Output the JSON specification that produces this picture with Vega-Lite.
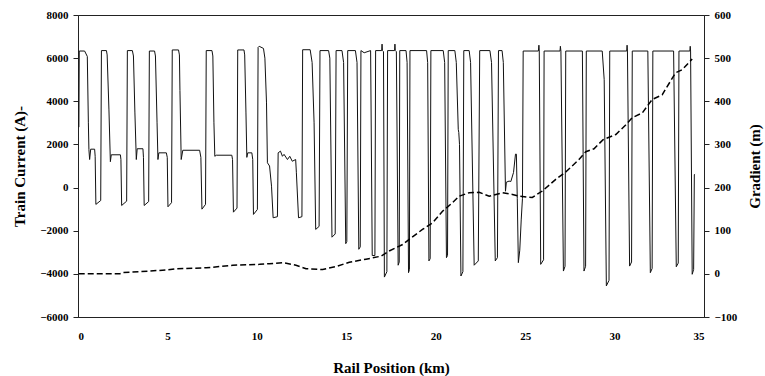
{
  "$schema": "https://vega.github.io/schema/vega-lite/v6.json",
  "width": 626,
  "height": 302,
  "autosize": "none",
  "padding": {"left": 78, "top": 15, "right": 61, "bottom": 59},
  "background": "white",
  "config": {
    "view": {"stroke": "#222", "strokeWidth": 1},
    "font": "Liberation Serif",
    "axis": {
      "labelFont": "Liberation Serif", "labelFontWeight": "bold", "labelFontSize": 11, "labelColor": "#000",
      "titleFont": "Liberation Serif", "titleFontWeight": "bold", "titleFontSize": 15, "titleColor": "#000",
      "grid": false, "domainColor": "#222", "tickColor": "#222", "domainWidth": 1
    }
  },
  "resolve": {"scale": {"y": "independent"}},
  "layer": [
    {
      "data": {"values": [
        {"km":0.05,"current":2800},{"km":0.07,"current":6330},{"km":0.37,"current":6330},{"km":0.52,"current":6080},{"km":0.58,"current":3000},{"km":0.61,"current":1760},{"km":0.65,"current":1300},{"km":0.71,"current":1780},{"km":0.93,"current":1780},{"km":0.96,"current":1450},{"km":1.00,"current":-780},{"km":1.27,"current":-600},
        {"km":1.31,"current":6350},{"km":1.59,"current":6350},{"km":1.63,"current":6150},{"km":1.73,"current":3600},{"km":1.81,"current":1200},{"km":1.86,"current":1520},{"km":2.37,"current":1520},{"km":2.40,"current":1300},{"km":2.44,"current":-830},{"km":2.72,"current":-630},
        {"km":2.76,"current":6350},{"km":3.04,"current":6350},{"km":3.10,"current":6100},{"km":3.18,"current":3500},{"km":3.26,"current":1300},{"km":3.31,"current":1800},{"km":3.63,"current":1800},{"km":3.66,"current":1400},{"km":3.70,"current":-830},{"km":3.95,"current":-650},
        {"km":3.99,"current":6330},{"km":4.28,"current":6330},{"km":4.33,"current":6100},{"km":4.42,"current":3000},{"km":4.47,"current":1300},{"km":4.52,"current":1610},{"km":4.94,"current":1610},{"km":4.99,"current":1400},{"km":5.03,"current":-890},{"km":5.23,"current":-700},
        {"km":5.27,"current":6380},{"km":5.62,"current":6380},{"km":5.67,"current":6150},{"km":5.70,"current":4500},{"km":5.77,"current":1300},{"km":5.86,"current":1730},{"km":6.80,"current":1730},{"km":6.87,"current":1400},{"km":6.93,"current":-1000},{"km":7.13,"current":-780},
        {"km":7.17,"current":6350},{"km":7.49,"current":6350},{"km":7.54,"current":6100},{"km":7.60,"current":3000},{"km":7.65,"current":1450},{"km":7.73,"current":1500},{"km":8.60,"current":1500},{"km":8.64,"current":1300},{"km":8.69,"current":-1140},{"km":8.89,"current":-950},
        {"km":8.93,"current":6380},{"km":9.28,"current":6380},{"km":9.32,"current":6150},{"km":9.39,"current":3500},{"km":9.44,"current":1400},{"km":9.49,"current":1610},{"km":9.72,"current":1610},{"km":9.77,"current":1300},{"km":9.81,"current":-1245},{"km":10.03,"current":-1015},
        {"km":10.07,"current":6500},{"km":10.13,"current":6550},{"km":10.37,"current":6450},{"km":10.45,"current":6000},{"km":10.54,"current":3925},{"km":10.59,"current":1150},{"km":10.71,"current":1000},{"km":10.82,"current":65},{"km":10.91,"current":-1400},{"km":11.15,"current":-1350},{"km":11.19,"current":1610},{"km":11.32,"current":1690},{"km":11.43,"current":1450},{"km":11.52,"current":1540},{"km":11.71,"current":1300},{"km":11.84,"current":1450},{"km":11.98,"current":1220},{"km":12.17,"current":1300},{"km":12.21,"current":685},{"km":12.33,"current":-1400},{"km":12.52,"current":-1350},
        {"km":12.56,"current":6390},{"km":12.98,"current":6390},{"km":13.09,"current":5800},{"km":13.20,"current":3000},{"km":13.29,"current":-1940},{"km":13.48,"current":-1800},
        {"km":13.53,"current":6350},{"km":14.01,"current":6350},{"km":14.08,"current":6000},{"km":14.20,"current":-2300},{"km":14.38,"current":-2150},
        {"km":14.43,"current":6350},{"km":14.76,"current":6350},{"km":14.85,"current":5800},{"km":14.97,"current":-2600},{"km":15.03,"current":-2500},
        {"km":15.08,"current":6350},{"km":15.51,"current":6350},{"km":15.60,"current":5800},{"km":15.70,"current":-2860},{"km":15.78,"current":-2750},
        {"km":15.82,"current":6350},{"km":16.00,"current":6250},{"km":16.36,"current":6350},{"km":16.45,"current":-3150},{"km":16.60,"current":-3150},
        {"km":16.64,"current":6350},{"km":16.98,"current":6350},{"km":17.00,"current":6650},{"km":17.02,"current":6350},{"km":17.08,"current":6300},{"km":17.13,"current":-4150},{"km":17.27,"current":-3900},
        {"km":17.31,"current":6350},{"km":17.70,"current":6350},{"km":17.72,"current":6650},{"km":17.74,"current":6350},{"km":17.80,"current":6300},{"km":17.90,"current":-3600},{"km":17.96,"current":-3450},
        {"km":17.99,"current":6350},{"km":18.34,"current":6350},{"km":18.40,"current":5800},{"km":18.48,"current":-3945},{"km":18.53,"current":-3800},
        {"km":18.56,"current":6350},{"km":19.49,"current":6350},{"km":19.55,"current":5800},{"km":19.62,"current":-3400},{"km":19.69,"current":-3300},
        {"km":19.73,"current":6350},{"km":20.42,"current":6350},{"km":20.50,"current":5800},{"km":20.60,"current":-3250},{"km":20.66,"current":-3150},
        {"km":20.70,"current":6350},{"km":21.07,"current":6350},{"km":21.15,"current":5800},{"km":21.26,"current":2700},{"km":21.29,"current":2550},{"km":21.33,"current":2000},{"km":21.41,"current":-4100},{"km":21.52,"current":-3900},
        {"km":21.57,"current":6350},{"km":21.87,"current":6350},{"km":21.95,"current":5800},{"km":22.15,"current":-3600},{"km":22.38,"current":-3400},
        {"km":22.46,"current":6350},{"km":23.03,"current":6350},{"km":23.12,"current":5800},{"km":23.33,"current":-3400},{"km":23.45,"current":-3250},
        {"km":23.51,"current":6350},{"km":23.71,"current":6350},{"km":23.78,"current":5800},{"km":23.90,"current":-170},{"km":23.95,"current":250},{"km":24.10,"current":300},{"km":24.20,"current":280},{"km":24.35,"current":700},{"km":24.46,"current":1550},{"km":24.51,"current":1550},{"km":24.56,"current":-500},{"km":24.62,"current":-3480},{"km":24.70,"current":-2900},{"km":24.78,"current":-1500},{"km":24.85,"current":-500},
        {"km":24.89,"current":6330},{"km":25.74,"current":6330},{"km":25.77,"current":6600},{"km":25.79,"current":6330},{"km":25.87,"current":-3560},{"km":26.03,"current":-3350},
        {"km":26.06,"current":6330},{"km":26.95,"current":6330},{"km":26.97,"current":6550},{"km":27.00,"current":6330},{"km":27.14,"current":-3870},{"km":27.23,"current":-3650},
        {"km":27.27,"current":6330},{"km":28.20,"current":6330},{"km":28.29,"current":-3870},{"km":28.38,"current":-3650},
        {"km":28.42,"current":6330},{"km":29.31,"current":6330},{"km":29.42,"current":5000},{"km":29.54,"current":-4560},{"km":29.69,"current":-4300},
        {"km":29.73,"current":6330},{"km":30.68,"current":6330},{"km":30.70,"current":6600},{"km":30.72,"current":6330},{"km":30.84,"current":-3640},{"km":30.95,"current":-3450},
        {"km":30.99,"current":6330},{"km":31.86,"current":6330},{"km":32.00,"current":-3945},{"km":32.10,"current":-3750},
        {"km":32.14,"current":6330},{"km":33.30,"current":6330},{"km":33.45,"current":-3670},{"km":33.56,"current":-3500},
        {"km":33.60,"current":6330},{"km":34.21,"current":6330},{"km":34.23,"current":6550},{"km":34.25,"current":6330},{"km":34.34,"current":-4020},{"km":34.42,"current":-3800},{"km":34.46,"current":600},{"km":34.50,"current":620}
      ]},
      "mark": {"type": "line", "color": "#111", "strokeWidth": 1},
      "encoding": {
        "x": {"field": "km", "type": "quantitative", "scale": {"domain": [0, 35], "nice": false},
              "axis": {"values": [0, 5, 10, 15, 20, 25, 30, 35], "title": "Rail Position (km)", "ticks": false, "tickSize": 0, "labelPadding": 13, "titlePadding": 19}},
        "y": {"field": "current", "type": "quantitative", "scale": {"domain": [-6000, 8000], "nice": false},
              "axis": {"values": [-6000, -4000, -2000, 0, 2000, 4000, 6000, 8000], "format": "d", "title": "Train Current (A)-", "tickSize": 5, "labelPadding": 5, "titlePadding": 12}}
      }
    },
    {
      "data": {"values": [
        {"km":0.04,"gradient":0},{"km":2.33,"gradient":0},{"km":2.51,"gradient":3},{"km":4.00,"gradient":6.5},{"km":4.94,"gradient":9},{"km":5.49,"gradient":12},{"km":7.17,"gradient":14},{"km":8.65,"gradient":20},{"km":10.15,"gradient":22},{"km":10.70,"gradient":23.5},{"km":11.45,"gradient":26},{"km":12.19,"gradient":20},{"km":12.75,"gradient":12},{"km":13.68,"gradient":10},{"km":14.43,"gradient":17},{"km":15.17,"gradient":27},{"km":16.10,"gradient":34},{"km":16.94,"gradient":41},{"km":17.40,"gradient":53},{"km":18.15,"gradient":68},{"km":18.52,"gradient":80},{"km":19.26,"gradient":103},{"km":19.82,"gradient":118},{"km":20.38,"gradient":145},{"km":20.94,"gradient":165},{"km":21.31,"gradient":180},{"km":21.87,"gradient":188},{"km":22.43,"gradient":189},{"km":22.99,"gradient":180},{"km":23.73,"gradient":188},{"km":24.29,"gradient":184},{"km":24.66,"gradient":180},{"km":25.40,"gradient":177},{"km":25.96,"gradient":192},{"km":26.71,"gradient":219},{"km":27.27,"gradient":236},{"km":28.01,"gradient":265},{"km":28.39,"gradient":283},{"km":28.85,"gradient":290},{"km":29.36,"gradient":311},{"km":30.07,"gradient":323},{"km":30.62,"gradient":345},{"km":30.99,"gradient":362},{"km":31.55,"gradient":373},{"km":32.10,"gradient":404},{"km":32.66,"gradient":415},{"km":33.41,"gradient":466},{"km":33.78,"gradient":473},{"km":34.34,"gradient":498}
      ]},
      "mark": {"type": "line", "color": "#000", "strokeWidth": 1.5, "strokeDash": [6, 3]},
      "encoding": {
        "x": {"field": "km", "type": "quantitative", "scale": {"domain": [0, 35], "nice": false}},
        "y": {"field": "gradient", "type": "quantitative", "scale": {"domain": [-100, 600], "nice": false},
              "axis": {"orient": "right", "values": [-100, 0, 100, 200, 300, 400, 500, 600], "format": "d", "title": "Gradient (m)", "titleAngle": 270, "tickSize": 5, "labelPadding": 5, "titlePadding": 26}}
      }
    }
  ]
}
